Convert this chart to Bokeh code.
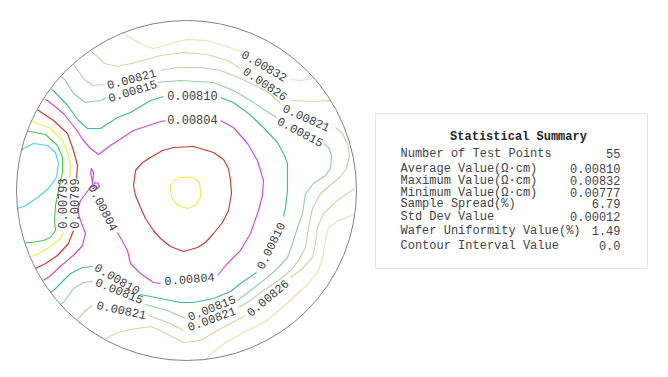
from bokeh.plotting import figure
from bokeh.models import Range1d, Label, BoxAnnotation
from bokeh.embed import file_html
from bokeh.resources import INLINE
from bokeh.core.properties import value

# ---------------- data (wafer coordinates, centre 0,0, wafer radius 170 units) ----------------
WAFER_R = 170

LEVELS = [0.00782, 0.00788, 0.00793, 0.00799, 0.00804, 0.00810, 0.00815, 0.00821, 0.00826, 0.00832]
COLORS = ["#4ad4e0", "#4cc84c", "#eeee4a", "#c83a30", "#d048d4", "#44b896", "#98cfaa", "#c6cfac", "#ddd1a6", "#f0deb8"]

C0782 = [[(-165, 40), (-163, 42), (-153, 47), (-139, 45), (-131, 38), (-128, 27), (-130, 13), (-138, 2),
          (-149, -7), (-161, -15), (-169, -18)]]

C0788 = [[(-159, 59), (-156, 59), (-141, 56), (-129, 45), (-124, 33), (-124, 18), (-128, 0), (-131, -15),
          (-132, -30), (-131, -40), (-136, -47), (-143, -50), (-156, -52), (-161, -52)]]

C0793 = [[(-155, 69), (-151, 68), (-136, 62), (-124, 50), (-119, 38), (-116, 25), (-117, 13)],
         [(-123, -42), (-126, -48), (-136, -56), (-146, -62), (-155, -66)],
         [(-16, 5), (-12, 10), (-6, 13), (7, 13), (13, 8), (14, 0), (14, -7), (9, -15), (1, -18),
          (-8, -15), (-14, -9), (-16, 0), (-16, 5)]]

C0799 = [[(-149, 81), (-148, 80), (-133, 70), (-119, 57), (-113, 40), (-109, 25), (-110, 12)],
         [(-113, -40), (-118, -53), (-129, -65), (-141, -73), (-151, -78)],
         [(-53, 5), (-51, 20), (-44, 28), (-36, 33), (-24, 40), (-13, 43), (7, 44), (27, 38), (37, 31),
          (42, 22), (44, 10), (45, -3), (42, -20), (36, -32), (27, -43), (19, -52), (11, -57), (-3, -61),
          (-16, -56), (-26, -48), (-33, -40), (-41, -28), (-46, -17), (-51, -5), (-53, 5)]]

C0804 = [[(-142, 91), (-139, 90), (-123, 77), (-111, 62), (-103, 50), (-96, 42), (-88, 36), (-76, 45),
          (-53, 60), (-29, 68), (-21, 70)],
         [(34, 70), (47, 63), (61, 47), (71, 30), (77, 10), (76, -5), (72, -20), (64, -43), (54, -60),
          (41, -73), (31, -85)],
         [(-26, -93), (-33, -92), (-46, -83), (-56, -73), (-59, -60), (-69, -42)],
         [(-94, 8), (-96, 18), (-95, 22), (-93, 18), (-94, 6), (-100, -2), (-106, -10), (-109, -20),
          (-106, -30), (-101, -43), (-104, -55), (-111, -63), (-124, -74), (-136, -85), (-143, -90)],
         [(-93, 6), (-91, 8), (-88, 7), (-87, 4), (-89, 2), (-92, 3), (-93, 6)]]

C0810 = [[(-135, 101), (-133, 100), (-119, 85), (-108, 70), (-99, 62), (-86, 62), (-69, 73), (-56, 78),
          (-36, 90), (-23, 94)],
         [(34, 93), (47, 88), (62, 77), (77, 63), (91, 48), (98, 35), (101, 27), (101, 0), (99, -17), (97, -26)],
         [(70, -82), (54, -93), (44, -101), (27, -108), (7, -112), (-6, -112), (-26, -108), (-46, -104)],
         [(-94, -76), (-104, -77), (-116, -83), (-133, -100), (-136, -102)]]

C0815 = [[(-125, 114), (-121, 110), (-113, 97), (-101, 88), (-86, 90), (-80, 93)],
         [(-29, 108), (-6, 110), (27, 108), (47, 100), (64, 90), (79, 80), (90, 73)],
         [(137, 47), (142, 43), (145, 35), (144, 22), (139, 15), (127, 7), (119, -3), (116, -23), (111, -37),
          (106, -53), (101, -67), (91, -78), (77, -90), (64, -100), (51, -110)],
         [(-1, -128), (-19, -120), (-41, -114)],
         [(-94, -91), (-103, -92), (-113, -98), (-123, -112), (-126, -114)]]

C0821 = [[(-113, 126), (-110, 122), (-103, 112), (-94, 105), (-83, 106)],
         [(-26, 120), (-9, 123), (14, 123), (34, 120), (54, 112), (69, 105), (82, 98), (94, 87)],
         [(149, 63), (156, 57), (161, 47), (163, 35), (160, 22), (154, 14), (147, 8), (134, -3), (126, -18),
          (122, -37), (119, -57), (112, -70), (104, -80), (92, -90), (77, -100), (64, -110), (52, -117)],
         [(-3, -140), (-16, -133), (-38, -125)],
         [(-94, -115), (-101, -120), (-108, -128), (-110, -129)]]

C0826 = [[(-95, 139), (-89, 134), (-82, 127), (-69, 124), (-51, 128), (-26, 135), (-3, 138), (21, 136),
          (41, 130), (54, 122)],
         [(104, 90), (127, 89), (144, 90)],
         [(-82, -149), (-69, -142), (-56, -139), (-36, -136), (-26, -140), (-3, -152), (14, -150), (31, -140),
          (44, -133), (59, -125)],
         [(104, -87), (114, -80), (126, -67), (129, -53), (131, -37), (137, -23), (151, -10), (168, 2)]]

C0832 = [[(-63, 157), (-46, 147), (-34, 142), (-28, 143), (-13, 148), (1, 151), (21, 150), (37, 145), (54, 139)],
         [(105, 111), (114, 110), (127, 112)],
         [(19, -169), (26, -162), (39, -152), (59, -141), (79, -131), (96, -117), (109, -105), (121, -94),
          (131, -82), (136, -68), (139, -50), (142, -37), (152, -30), (168, -24)]]

CONTOURS = [C0782, C0788, C0793, C0799, C0804, C0810, C0815, C0821, C0826, C0832]

# contour labels: level, x, y, angle (deg)
LABEL_LEVEL = [0.00832, 0.00826, 0.00821, 0.00815, 0.00821, 0.00815, 0.00810, 0.00804,
               0.00804, 0.00810, 0.00804, 0.00810, 0.00815, 0.00821, 0.00815, 0.00821, 0.00826,
               0.00793, 0.00799]
LABEL_X = [78, 79, 120, 114, -55, -54, 6, 6, -83, 84, 3, -69, -67, -65, 25, 25, 81, -124, -112]
LABEL_Y = [125, 107, 73, 59, 112, 100, 95, 71, -17, -55, -88, -88, -100, -119, -117, -128, -107, -13, -13]
LABEL_ANGLE = [-30, -34, -24, -28, 15, 17, 0, 0, -63, 64, 5, -30, -22, -12, 22, 20, 40, 90, 90]

STAT_NAMES = ["Number of Test Points", "Average Value(\u03a9\u00b7cm)", "Maximum Value(\u03a9\u00b7cm)",
              "Minimum Value(\u03a9\u00b7cm)", "Sample Spread(%)", "Std Dev Value",
              "Wafer Uniformity Value(%)", "Contour Interval Value"]
STAT_VALUES = ["55", "0.00810", "0.00832", "0.00777", "6.79", "0.00012", "1.49", "0.0"]

# ---------------- figure ----------------
W, H = 668, 377
p = figure(width=W, height=H, output_backend="svg", toolbar_location=None,
           x_range=Range1d(-186, 482), y_range=Range1d(-187, 190),
           x_axis_location=None, y_axis_location=None, min_border=0)
p.grid.visible = False
p.outline_line_color = None
p.background_fill_color = "white"
p.border_fill_color = "white"

for segs, col in zip(CONTOURS, COLORS):
    xs = [[pt[0] for pt in s] for s in segs]
    ys = [[pt[1] for pt in s] for s in segs]
    p.multi_line(xs=xs, ys=ys, line_color=col, line_width=1.15, line_join="round")

p.circle(x=[0], y=[0], radius=WAFER_R, fill_color=None, line_color="#747474", line_width=0.9)

p.text(x=LABEL_X, y=LABEL_Y, text=[f"{v:.5f}" for v in LABEL_LEVEL], angle=LABEL_ANGLE,
       angle_units="deg", text_font=value("Liberation Mono"), text_font_size="12px",
       text_align="center", text_baseline="middle", text_color="#404040")

# ---------------- statistical summary panel ----------------
box = BoxAnnotation(left=375, right=647, top=H - 113, bottom=H - 268,
                    left_units="screen", right_units="screen", top_units="screen", bottom_units="screen",
                    fill_color="white", fill_alpha=1.0, line_color="#a8a8a8", line_width=1)
p.add_layout(box)

p.add_layout(Label(x=518, y=H - 136, x_units="screen", y_units="screen", text="Statistical Summary",
                   text_font="Liberation Mono", text_font_size="12px", text_font_style="bold",
                   text_align="center", text_baseline="middle", text_color="#262626"))

ROW_Y = [153, 168, 180, 192, 203, 216, 230, 245]
for name, val, ry in zip(STAT_NAMES, STAT_VALUES, ROW_Y):
    p.add_layout(Label(x=400, y=H - ry, x_units="screen", y_units="screen", text=name,
                       text_font="Liberation Mono", text_font_size="12px",
                       text_align="left", text_baseline="middle", text_color="#444444"))
    p.add_layout(Label(x=620, y=H - ry, x_units="screen", y_units="screen", text=val,
                       text_font="Liberation Mono", text_font_size="12px",
                       text_align="right", text_baseline="middle", text_color="#444444"))

open("out.html", "w").write(file_html(p, INLINE))
